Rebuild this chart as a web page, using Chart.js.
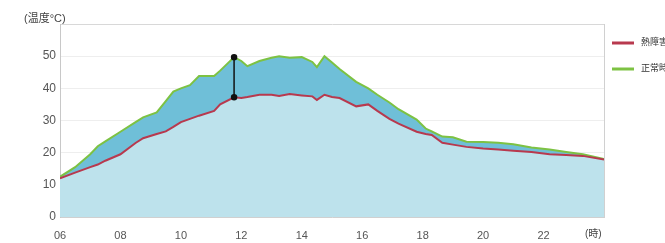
<!DOCTYPE html>
<html>
<head>
<meta charset="utf-8">
<script src="https://cdn.jsdelivr.net/npm/chart.js@4.4.1/dist/chart.umd.min.js"></script>
<style>
  html, body { margin: 0; padding: 0; background: #fff; }
  #wrap { width: 665px; height: 243px; }
</style>
</head>
<body>
<div id="wrap"><canvas id="tempChart" width="665" height="243"></canvas></div>
<script>
// Hours of the day (x) and temperatures
const hours = [6.0, 6.5, 7.0, 7.25, 7.5, 8.0, 8.5, 8.75, 9.2, 9.5, 9.75, 10.0, 10.3, 10.6, 11.1, 11.3,
  11.76, 12.0, 12.2, 12.6, 13.0, 13.25, 13.6, 14.0, 14.35, 14.5, 14.75, 15.0, 15.25, 15.8, 16.2, 16.5,
  16.9, 17.2, 17.8, 18.1, 18.3, 18.65, 19.0, 19.45, 20.0, 20.5, 21.0, 21.6, 22.2, 22.75, 23.3, 24.0];

const heatTemps = [12.0, 13.8, 15.5, 16.3, 17.5, 19.5, 23.0, 24.5, 25.8, 26.6, 28.0, 29.5, 30.5, 31.5, 33.0, 35.0,
  37.2, 37.0, 37.3, 38.0, 38.0, 37.6, 38.2, 37.8, 37.5, 36.4, 38.0, 37.3, 37.0, 34.4, 35.0, 33.0,
  30.5, 29.0, 26.5, 25.8, 25.5, 23.1, 22.5, 21.8, 21.3, 21.0, 20.6, 20.2, 19.5, 19.3, 19.0, 17.9];

const normalTemps = [12.5, 15.5, 19.5, 22.0, 23.5, 26.5, 29.5, 31.0, 32.5, 36.0, 39.0, 40.0, 41.0, 43.8, 43.8, 45.5,
  49.7, 48.5, 46.9, 48.5, 49.5, 50.0, 49.5, 49.7, 48.2, 46.6, 50.0, 48.0, 46.0, 42.0, 40.0, 38.0,
  35.6, 33.5, 30.3, 27.5, 26.6, 25.0, 24.8, 23.4, 23.3, 23.1, 22.6, 21.6, 21.0, 20.2, 19.5, 18.0];

const seriesLabels = ['熱障害時', '正常時'];
const markerHour = 11.76;
const markerRange = [37.2, 49.7];

const yTicks = [0, 10, 20, 30, 40, 50];

const FONT = '"Liberation Sans", "Noto Sans CJK JP", sans-serif';

const toPoints = vals => hours.map((h, i) => ({ x: h, y: vals[i] }));

// titles and legend drawn by hand so they sit where the original has them
const extras = {
  id: 'extras',
  afterDraw(chart) {
    const c = chart.ctx;
    c.save();
    c.fillStyle = '#444';
    c.font = '11px ' + FONT;
    c.textBaseline = 'middle';
    c.textAlign = 'left';
    c.fillText('(温度°C)', 24, 19);
    c.font = '10px ' + FONT;
    c.fillText('(時)', 585, 234);

    const colors = ['#b8394e', '#7dc243'];
    const ys = [43, 69];
    seriesLabels.forEach((lab, i) => {
      c.strokeStyle = colors[i];
      c.lineWidth = 3;
      c.beginPath();
      c.moveTo(612, ys[i]);
      c.lineTo(634, ys[i]);
      c.stroke();
      c.fillStyle = '#333';
      c.font = '9px ' + FONT;
      c.fillText(lab, 641, ys[i]);
    });
    c.restore();
  }
};

const ctx = document.getElementById('tempChart').getContext('2d');
new Chart(ctx, {
  type: 'line',
  data: {
    datasets: [
      {
        label: seriesLabels[0],
        data: toPoints(heatTemps),
        borderColor: '#b8394e',
        backgroundColor: '#bde2ec',
        borderWidth: 2,
        fill: 'origin',
        pointRadius: 0,
        tension: 0,
        order: 1
      },
      {
        label: seriesLabels[1],
        data: toPoints(normalTemps),
        borderColor: '#7dc243',
        backgroundColor: '#6fbfd8',
        borderWidth: 2,
        fill: '-1',
        pointRadius: 0,
        tension: 0,
        order: 2
      },
      {
        label: 'diff',
        data: markerRange.map(v => ({ x: markerHour, y: v })),
        borderColor: '#111',
        backgroundColor: '#111',
        borderWidth: 1.5,
        fill: false,
        pointRadius: 2.5,
        tension: 0,
        order: 0
      }
    ]
  },
  options: {
    responsive: false,
    animation: false,
    layout: { padding: { top: 24, right: 61, left: 0, bottom: 0 } },
    plugins: {
      legend: { display: false },
      tooltip: { enabled: false }
    },
    scales: {
      x: {
        type: 'linear',
        min: 6,
        max: 24,
        z: 1,
        afterFit: s => { s.height = 26; },
        border: { color: '#d0d0d0' },
        grid: {
          drawTicks: false,
          color: c => (c.tick && c.tick.value === 24 ? '#d0d0d0' : 'transparent')
        },
        ticks: {
          stepSize: 2,
          padding: 12,
          color: '#555',
          font: { family: FONT, size: 11 },
          callback: v => (v === 24 ? '' : String(v).padStart(2, '0'))
        }
      },
      y: {
        min: 0,
        max: 60,
        z: 1,
        afterFit: s => { s.width = 60; },
        border: { color: '#c8c8c8' },
        grid: {
          drawTicks: false,
          color: c => (c.tick && c.tick.value === 60 ? '#d8d8d8' : 'rgba(120,120,120,0.13)')
        },
        ticks: {
          stepSize: 10,
          padding: 4,
          color: '#555',
          font: { family: FONT, size: 12 },
          callback: v => (yTicks.includes(v) ? v : '')
        }
      }
    }
  },
  plugins: [extras]
});
</script>
</body>
</html>
